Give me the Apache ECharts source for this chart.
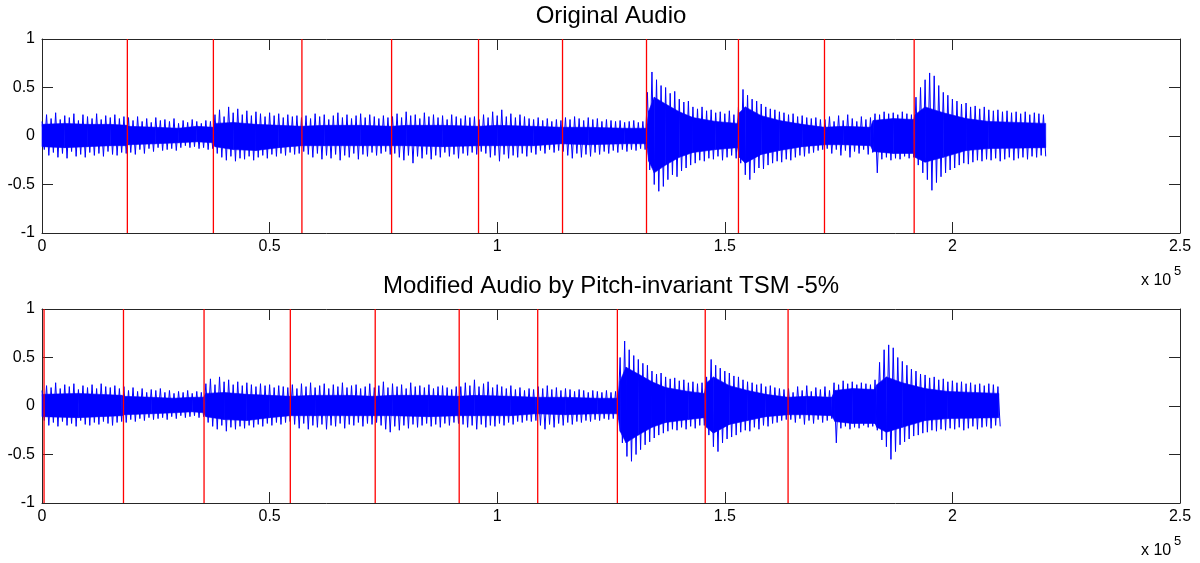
<!DOCTYPE html>
<html>
<head>
<meta charset="utf-8">
<script src="https://cdn.jsdelivr.net/npm/echarts@6/dist/echarts.min.js"></script>
<style>
html,body{margin:0;padding:0;background:#fff;}
#chart{width:1200px;height:563px;}
</style>
</head>
<body>
<div id="chart"></div>
<script>
// ---------- data ----------
const titles = ['Original Audio', 'Modified Audio by Pitch-invariant TSM -5%'];
const xTickLabels = ['0', '0.5', '1', '1.5', '2', '2.5'];
const yTickLabels = ['-1', '-0.5', '0', '0.5', '1'];
const xExponentText = 'x 10';
const xExponent = '5';
const blockSize = 1000; // samples per envelope block

// per-block peak (hi) and trough (lo) of the waveform, original audio
const origHi = [
 0.15,0.22,0.18,0.24,0.17,0.21,0.19,0.23,0.16,0.22,0.2,0.18,0.23,0.17,0.21,0.19,0.22,0.18,0.2,
 0.19,0.16,0.2,0.15,0.18,0.14,0.19,0.16,0.17,0.15,0.18,0.13,0.16,0.14,0.17,0.15,0.13,0.16,0.15,
 0.22,0.27,0.2,0.3,0.24,0.28,0.22,0.26,0.21,0.25,0.23,0.2,0.24,0.21,0.23,0.19,0.22,0.2,0.21,0.19,
 0.21,0.18,0.23,0.2,0.22,0.17,0.21,0.24,0.19,0.22,0.18,0.21,0.23,0.19,0.22,0.2,0.18,0.21,0.19,
 0.2,0.23,0.19,0.25,0.21,0.22,0.18,0.24,0.2,0.22,0.19,0.21,0.17,0.22,0.2,0.18,0.21,0.19,0.2,0.17,
 0.22,0.19,0.25,0.21,0.27,0.2,0.23,0.19,0.22,0.2,0.18,0.17,0.19,0.16,0.18,0.15,0.17,0.16,
 0.19,0.17,0.2,0.18,0.16,0.19,0.17,0.18,0.15,0.17,0.16,0.15,0.16,0.14,0.15,0.16,0.14,0.15,
 0.45,0.66,0.58,0.52,0.5,0.44,0.46,0.38,0.35,0.36,0.3,0.28,0.3,0.26,0.27,0.24,0.25,0.23,0.26,0.22,
 0.3,0.48,0.42,0.38,0.36,0.33,0.3,0.28,0.27,0.25,0.24,0.22,0.23,0.2,0.21,0.19,0.18,0.19,0.17,
 0.17,0.2,0.15,0.21,0.16,0.22,0.18,0.15,0.2,0.17,0.19,0.23,0.22,0.25,0.23,0.24,0.22,0.25,0.23,0.22,
 0.4,0.5,0.58,0.65,0.62,0.52,0.45,0.42,0.38,0.36,0.33,0.34,0.3,0.31,0.28,0.3,0.27,0.26,0.27,0.25,0.26,0.24,0.25,0.23,0.25,0.22,0.24,0.23,0.22
];
const origLo = [
 -0.14,-0.2,-0.17,-0.22,-0.18,-0.23,-0.16,-0.21,-0.19,-0.22,-0.17,-0.2,-0.18,-0.21,-0.16,-0.19,-0.2,-0.17,-0.18,
 -0.17,-0.19,-0.14,-0.18,-0.13,-0.16,-0.12,-0.15,-0.14,-0.13,-0.15,-0.12,-0.1,-0.12,-0.11,-0.13,-0.12,-0.14,-0.13,
 -0.18,-0.22,-0.25,-0.21,-0.26,-0.23,-0.24,-0.21,-0.25,-0.22,-0.2,-0.23,-0.19,-0.21,-0.18,-0.2,-0.17,-0.19,-0.18,-0.16,
 -0.19,-0.22,-0.18,-0.24,-0.2,-0.23,-0.19,-0.25,-0.2,-0.22,-0.18,-0.24,-0.19,-0.21,-0.17,-0.2,-0.18,-0.16,-0.19,
 -0.18,-0.22,-0.25,-0.2,-0.28,-0.21,-0.23,-0.19,-0.24,-0.2,-0.22,-0.17,-0.21,-0.19,-0.23,-0.18,-0.2,-0.17,-0.19,-0.16,
 -0.18,-0.22,-0.2,-0.26,-0.19,-0.23,-0.2,-0.22,-0.18,-0.21,-0.17,-0.19,-0.15,-0.18,-0.14,-0.17,-0.15,-0.16,
 -0.2,-0.23,-0.18,-0.22,-0.19,-0.21,-0.17,-0.19,-0.16,-0.18,-0.15,-0.17,-0.14,-0.16,-0.14,-0.15,-0.13,-0.14,
 -0.35,-0.5,-0.57,-0.52,-0.45,-0.4,-0.42,-0.36,-0.33,-0.3,-0.28,-0.25,-0.26,-0.23,-0.24,-0.21,-0.25,-0.22,-0.2,-0.23,
 -0.28,-0.4,-0.45,-0.38,-0.33,-0.34,-0.3,-0.28,-0.26,-0.27,-0.24,-0.25,-0.22,-0.2,-0.21,-0.18,-0.17,-0.15,-0.14,
 -0.13,-0.18,-0.14,-0.2,-0.15,-0.22,-0.16,-0.18,-0.14,-0.19,-0.17,-0.38,-0.24,-0.22,-0.25,-0.23,-0.24,-0.21,-0.23,-0.22,
 -0.3,-0.38,-0.45,-0.56,-0.48,-0.42,-0.38,-0.35,-0.33,-0.3,-0.28,-0.29,-0.27,-0.25,-0.26,-0.24,-0.25,-0.23,-0.26,-0.24,-0.22,-0.25,-0.23,-0.22,-0.24,-0.21,-0.22,-0.2,-0.21
];
// dense core band of the original audio: [sample, upper, lower]
const origCore = [
 [0,0.12,-0.11],[5000,0.13,-0.12],[10000,0.12,-0.11],[15000,0.12,-0.1],[18700,0.11,-0.1],
 [19000,0.1,-0.09],[25000,0.09,-0.08],[30000,0.08,-0.07],[34000,0.1,-0.06],[37600,0.09,-0.07],
 [38000,0.13,-0.11],[42000,0.14,-0.14],[47000,0.12,-0.15],[52000,0.11,-0.12],[57000,0.1,-0.1],
 [62000,0.11,-0.1],[70000,0.11,-0.1],[76800,0.1,-0.1],[80000,0.11,-0.1],[88000,0.11,-0.11],
 [96000,0.1,-0.1],[100000,0.11,-0.1],[108000,0.1,-0.1],[114000,0.09,-0.08],[120000,0.09,-0.09],
 [128000,0.08,-0.08],[132800,0.08,-0.08],[133300,0.26,-0.26],[134500,0.4,-0.38],[137000,0.33,-0.3],
 [140000,0.25,-0.22],[143000,0.19,-0.17],[148000,0.15,-0.14],[152800,0.13,-0.12],[153200,0.24,-0.22],
 [154500,0.3,-0.28],[158000,0.21,-0.19],[162000,0.16,-0.15],[167000,0.12,-0.11],[171900,0.09,-0.09],
 [176000,0.1,-0.09],[182000,0.09,-0.1],[182600,0.16,-0.16],[187000,0.18,-0.18],[191500,0.17,-0.18],
 [191800,0.22,-0.22],[194000,0.3,-0.27],[198000,0.24,-0.22],[203000,0.18,-0.15],[208000,0.15,-0.13],
 [220500,0.13,-0.12]
];
const origOnsets = [18750, 37650, 57100, 76800, 95900, 114350, 132800, 153000, 171900, 191600];

// modified audio (TSM -5%)
const modHi = [
 0.16,0.21,0.19,0.24,0.18,0.22,0.2,0.23,0.17,0.21,0.19,0.22,0.18,0.23,0.2,0.19,0.21,0.18,
 0.2,0.16,0.19,0.15,0.18,0.14,0.17,0.16,0.18,0.14,0.16,0.13,0.15,0.14,0.16,0.13,0.15,0.14,
 0.23,0.28,0.22,0.3,0.25,0.27,0.22,0.25,0.21,0.24,0.22,0.2,0.23,0.21,0.22,0.19,0.21,0.2,0.19,
 0.22,0.18,0.23,0.2,0.24,0.19,0.21,0.23,0.18,0.22,0.2,0.24,0.19,0.21,0.22,0.18,0.2,0.23,0.19,
 0.21,0.25,0.19,0.23,0.2,0.22,0.18,0.24,0.2,0.21,0.19,0.22,0.18,0.2,0.21,0.19,0.17,0.2,
 0.2,0.24,0.21,0.27,0.2,0.23,0.25,0.19,0.22,0.2,0.18,0.21,0.17,0.19,0.16,0.18,0.17,
 0.2,0.18,0.21,0.17,0.19,0.16,0.18,0.17,0.15,0.17,0.16,0.14,0.16,0.15,0.14,0.16,0.14,0.15,
 0.5,0.67,0.58,0.52,0.48,0.44,0.42,0.36,0.33,0.34,0.3,0.28,0.29,0.26,0.27,0.24,0.25,0.23,0.24,
 0.3,0.48,0.42,0.39,0.36,0.34,0.31,0.3,0.27,0.25,0.24,0.22,0.23,0.2,0.21,0.19,0.18,0.17,
 0.18,0.14,0.2,0.16,0.21,0.15,0.19,0.17,0.2,0.16,0.24,0.22,0.26,0.23,0.25,0.22,0.24,0.23,0.22,0.27,
 0.45,0.58,0.63,0.6,0.5,0.46,0.42,0.38,0.36,0.33,0.32,0.29,0.3,0.27,0.28,0.25,0.26,0.24,0.25,0.23,0.24,0.22,0.23,0.21,0.23,0.22,0.2
];
const modLo = [
 -0.15,-0.2,-0.17,-0.21,-0.16,-0.2,-0.18,-0.21,-0.15,-0.19,-0.2,-0.17,-0.19,-0.16,-0.18,-0.2,-0.17,-0.16,
 -0.17,-0.14,-0.16,-0.13,-0.15,-0.12,-0.14,-0.13,-0.12,-0.14,-0.11,-0.13,-0.1,-0.12,-0.11,-0.1,-0.12,-0.11,
 -0.17,-0.21,-0.24,-0.2,-0.26,-0.22,-0.24,-0.21,-0.23,-0.2,-0.22,-0.19,-0.21,-0.18,-0.2,-0.17,-0.19,-0.17,-0.16,
 -0.19,-0.23,-0.18,-0.24,-0.2,-0.22,-0.19,-0.24,-0.2,-0.21,-0.18,-0.23,-0.19,-0.2,-0.17,-0.21,-0.18,-0.19,-0.17,
 -0.2,-0.24,-0.27,-0.21,-0.25,-0.2,-0.23,-0.19,-0.22,-0.2,-0.18,-0.21,-0.19,-0.22,-0.18,-0.2,-0.17,-0.18,
 -0.19,-0.22,-0.2,-0.24,-0.19,-0.22,-0.2,-0.21,-0.18,-0.2,-0.17,-0.19,-0.16,-0.17,-0.15,-0.16,-0.15,
 -0.2,-0.24,-0.19,-0.22,-0.18,-0.2,-0.17,-0.19,-0.16,-0.17,-0.15,-0.16,-0.14,-0.15,-0.13,-0.14,-0.13,-0.14,
 -0.38,-0.52,-0.57,-0.5,-0.45,-0.4,-0.37,-0.33,-0.3,-0.28,-0.26,-0.24,-0.25,-0.22,-0.24,-0.21,-0.23,-0.2,-0.2,
 -0.3,-0.42,-0.47,-0.38,-0.34,-0.32,-0.3,-0.27,-0.25,-0.26,-0.22,-0.24,-0.2,-0.21,-0.18,-0.17,-0.15,-0.14,
 -0.14,-0.17,-0.13,-0.19,-0.15,-0.18,-0.14,-0.17,-0.15,-0.13,-0.38,-0.23,-0.21,-0.24,-0.22,-0.23,-0.2,-0.22,-0.21,-0.25,
 -0.35,-0.42,-0.55,-0.47,-0.4,-0.37,-0.34,-0.31,-0.3,-0.28,-0.27,-0.25,-0.26,-0.24,-0.25,-0.23,-0.24,-0.22,-0.25,-0.23,-0.21,-0.24,-0.22,-0.21,-0.23,-0.2,-0.21
];
const modCore = [
 [0,0.12,-0.11],[8000,0.13,-0.12],[17500,0.11,-0.1],[18000,0.1,-0.09],[24000,0.09,-0.08],
 [29000,0.08,-0.07],[33000,0.09,-0.06],[35500,0.09,-0.07],[36000,0.13,-0.11],[40000,0.14,-0.14],
 [45000,0.12,-0.15],[50000,0.11,-0.12],[54500,0.1,-0.1],[60000,0.11,-0.1],[67000,0.11,-0.1],
 [73000,0.1,-0.1],[77000,0.11,-0.1],[85000,0.11,-0.11],[91500,0.1,-0.1],[95000,0.11,-0.1],
 [103000,0.1,-0.1],[108500,0.09,-0.08],[115000,0.09,-0.09],[122000,0.08,-0.08],[126500,0.08,-0.08],
 [127000,0.26,-0.26],[128300,0.4,-0.38],[131000,0.33,-0.3],[134000,0.25,-0.22],[137000,0.19,-0.17],
 [142000,0.15,-0.14],[145500,0.13,-0.12],[146000,0.24,-0.22],[147500,0.3,-0.28],[151000,0.21,-0.19],
 [155000,0.16,-0.15],[159000,0.12,-0.11],[163900,0.09,-0.09],[168000,0.1,-0.09],[173500,0.09,-0.1],
 [174200,0.16,-0.16],[178000,0.18,-0.18],[183000,0.17,-0.18],[183400,0.22,-0.22],[185500,0.3,-0.27],
 [189000,0.24,-0.22],[194000,0.18,-0.15],[199000,0.15,-0.13],[210200,0.13,-0.12]
];
const modOnsets = [450, 17900, 35600, 54550, 73200, 91650, 108900, 126400, 145700, 163900];

// ---------- chart ----------
const FONT = '"Liberation Sans", Arial, Helvetica, sans-serif';
const AX = '#262626';

function zigzag(hi, lo) {
  const pts = [];
  for (let i = 0; i < hi.length; i++) {
    pts.push([i * blockSize, hi[i]]);
    pts.push([i * blockSize + blockSize / 2, lo[i]]);
  }
  return pts;
}
function coreSegments(core) {
  const rows = [];
  for (let i = 0; i < core.length - 1; i++) {
    rows.push([core[i][0], core[i][1], core[i][2], core[i + 1][0], core[i + 1][1], core[i + 1][2]]);
  }
  return rows;
}
function coreRender(params, api) {
  const a = api.coord([api.value(0), api.value(1)]);
  const b = api.coord([api.value(3), api.value(4)]);
  const c = api.coord([api.value(3), api.value(5)]);
  const d = api.coord([api.value(0), api.value(2)]);
  return { type: 'polygon', shape: { points: [a, b, c, d] },
           style: { fill: '#0000ff', stroke: '#0000ff', lineWidth: 0.6 } };
}
function onsetRender(params, api) {
  const t = api.coord([api.value(0), 1]);
  const b = api.coord([api.value(0), -1]);
  return { type: 'line', shape: { x1: t[0], y1: t[1], x2: b[0], y2: b[1] },
           style: { stroke: '#ff0000', lineWidth: 1.3 } };
}
function xAx(g, pos, labels) {
  return {
    type: 'value', gridIndex: g, position: pos, min: 0, max: 250000, interval: 50000,
    axisLine: { show: true, onZero: false, lineStyle: { color: AX, width: 1 } },
    axisTick: { show: true, inside: true, length: 11, lineStyle: { color: AX, width: 1 } },
    axisLabel: { show: labels, color: '#000', fontSize: 16, fontFamily: FONT, margin: 6,
                 formatter: (v, i) => xTickLabels[i] },
    splitLine: { show: false }
  };
}
function yAx(g, pos, labels) {
  return {
    type: 'value', gridIndex: g, position: pos, min: -1, max: 1, interval: 0.5,
    axisLine: { show: true, onZero: false, lineStyle: { color: AX, width: 1 } },
    axisTick: { show: true, inside: true, length: 11, lineStyle: { color: AX, width: 1 } },
    axisLabel: { show: labels, color: '#000', fontSize: 16, fontFamily: FONT, margin: 7,
                 formatter: (v, i) => yTickLabels[i] },
    splitLine: { show: false }
  };
}
function panelSeries(xi, yi, hi, lo, core, onsets) {
  return [
    { type: 'custom', xAxisIndex: xi, yAxisIndex: yi, renderItem: coreRender, z: 2, silent: true,
      encode: { x: [0, 3], y: [1, 2, 4, 5] }, data: coreSegments(core) },
    { type: 'line', xAxisIndex: xi, yAxisIndex: yi, z: 3, silent: true, symbol: 'none', showSymbol: false,
      lineStyle: { color: '#0000ff', width: 1 }, data: zigzag(hi, lo) },
    { type: 'custom', xAxisIndex: xi, yAxisIndex: yi, renderItem: onsetRender, z: 4, silent: true,
      encode: { x: 0 }, data: onsets.map(v => [v]) }
  ];
}

const chart = echarts.init(document.getElementById('chart'), null, { renderer: 'canvas' });
chart.setOption({
  animation: false,
  backgroundColor: '#fff',
  grid: [
    { left: 42, top: 39, width: 1138, height: 194 },
    { left: 42, top: 309, width: 1138, height: 194 }
  ],
  xAxis: [xAx(0, 'bottom', true), xAx(0, 'top', false), xAx(1, 'bottom', true), xAx(1, 'top', false)],
  yAxis: [yAx(0, 'left', true), yAx(0, 'right', false), yAx(1, 'left', true), yAx(1, 'right', false)],
  series: [].concat(
    panelSeries(0, 0, origHi, origLo, origCore, origOnsets),
    panelSeries(2, 2, modHi, modLo, modCore, modOnsets)
  ),
  graphic: [
    { type: 'text', x: 611, y: 16, style: { text: titles[0], fontSize: 24, fontFamily: FONT, fill: '#000', align: 'center', verticalAlign: 'middle' } },
    { type: 'text', x: 611, y: 286, style: { text: titles[1], fontSize: 24, fontFamily: FONT, fill: '#000', align: 'center', verticalAlign: 'middle' } },
    { type: 'text', x: 1141, y: 281, style: { text: xExponentText, fontSize: 16, fontFamily: FONT, fill: '#000', align: 'left', verticalAlign: 'middle' } },
    { type: 'text', x: 1174, y: 271, style: { text: xExponent, fontSize: 13, fontFamily: FONT, fill: '#000', align: 'left', verticalAlign: 'middle' } },
    { type: 'text', x: 1141, y: 551, style: { text: xExponentText, fontSize: 16, fontFamily: FONT, fill: '#000', align: 'left', verticalAlign: 'middle' } },
    { type: 'text', x: 1174, y: 541, style: { text: xExponent, fontSize: 13, fontFamily: FONT, fill: '#000', align: 'left', verticalAlign: 'middle' } }
  ]
});
</script>
</body>
</html>
